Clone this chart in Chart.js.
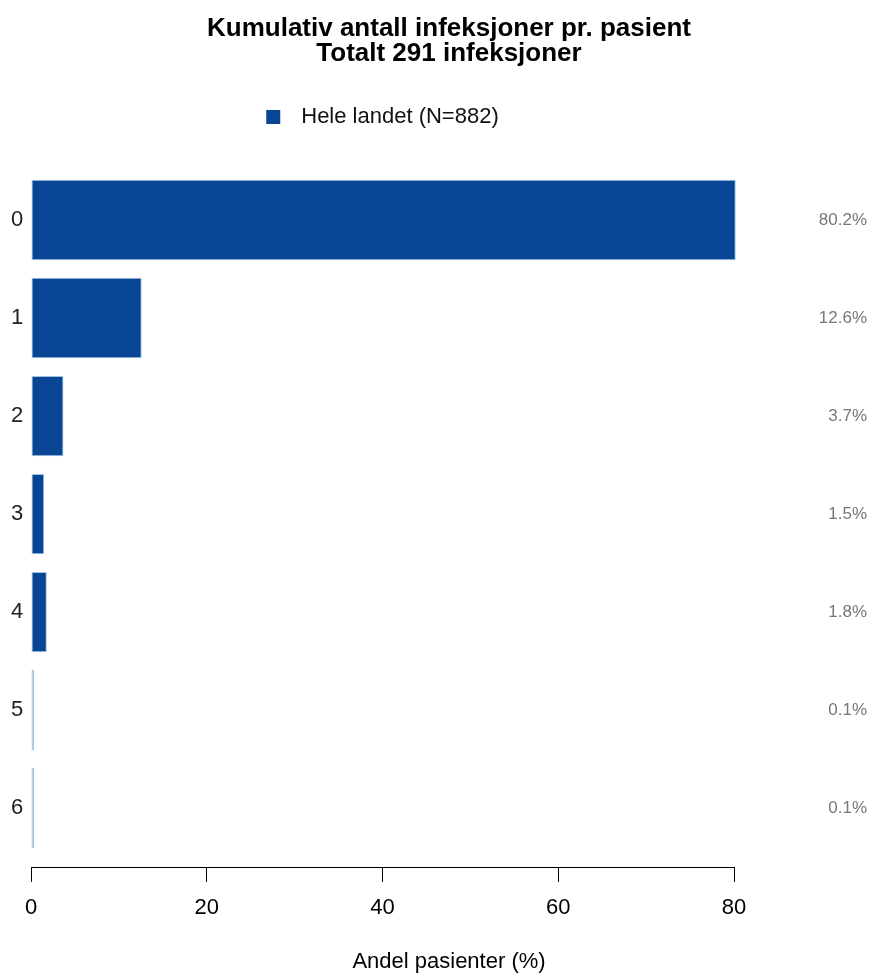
<!DOCTYPE html>
<html lang="no">
  <head>
    <meta charset="UTF-8" />
    <meta name="viewport" content="width=device-width, initial-scale=1.0" />
    <script src="https://cdn.jsdelivr.net/npm/chart.js@4/dist/chart.umd.min.js"></script>
    <title>Kumulativ antall infeksjoner</title>
    <style>
      html, body { margin: 0; padding: 0; background: #fff; }
      canvas { display: block; }
    </style>
  </head>
  <body>
    <canvas id="myChart" width="875" height="974"></canvas>

    <script>
      // data
      const categories = ["0", "1", "2", "3", "4", "5", "6"];
      const shares = [80.2, 12.6, 3.7, 1.5, 1.8, 0.1, 0.1];
      const shareLabels = ["80.2%", "12.6%", "3.7%", "1.5%", "1.8%", "0.1%", "0.1%"];
      const seriesName = "Hele landet (N=882)";
      const titleLines = ["Kumulativ antall infeksjoner pr. pasient", "Totalt 291 infeksjoner"];
      const xTitle = "Andel pasienter (%)";

      const FONT = "'Liberation Sans', Arial, Helvetica, sans-serif";
      const dark = "#084594";
      const light = "#a3c1e6";

      // one small legend above the plot, centred on the plot area
      const topLegend = {
        id: "topLegend",
        afterDraw(chart) {
          const ctx = chart.ctx;
          const area = chart.chartArea;
          ctx.save();
          ctx.font = "22px " + FONT;
          const tw = ctx.measureText(seriesName).width;
          const total = 14 + 21 + tw;
          const x0 = (area.left + area.right) / 2 - total / 2;
          const y = 117;
          ctx.fillStyle = dark;
          ctx.fillRect(x0, y - 7, 14, 14);
          ctx.fillStyle = "#111";
          ctx.textBaseline = "middle";
          ctx.textAlign = "left";
          ctx.fillText(seriesName, x0 + 35, y);
          ctx.restore();
        },
      };

      const yRange = { min: -0.5, max: 6.61 };

      const config = {
        type: "bar",
        data: {
          datasets: [
            {
              label: seriesName,
              data: shares.map((v, i) => ({ x: v, y: i })),
              backgroundColor: shares.map((v) => (v < 1 ? light : dark)),
              borderColor: light,
              borderWidth: 1,
              borderSkipped: false,
              minBarLength: 3,
              barPercentage: 0.82,
              categoryPercentage: 1,
              clip: false,
            },
          ],
        },
        options: {
          indexAxis: "y",
          responsive: false,
          animation: false,
          layout: { padding: { left: 31, right: 8, top: 0, bottom: 0 } },
          plugins: {
            legend: { display: false },
            tooltip: { enabled: false },
            title: {
              display: true,
              text: titleLines,
              color: "#000",
              font: { family: FONT, size: 26, weight: "bold", lineHeight: 0.97 },
              padding: { top: 16.4, bottom: 104.2 },
            },
            subtitle: {
              display: true,
              position: "bottom",
              text: xTitle,
              color: "#000",
              font: { family: FONT, size: 22, lineHeight: 1.1 },
              padding: { top: 15.5, bottom: 0 },
            },
          },
          scales: {
            x: {
              type: "linear",
              min: 0,
              max: 80,
              ticks: {
                stepSize: 20,
                color: "#000",
                padding: 13,
                font: { family: FONT, size: 22 },
              },
              grid: {
                display: true,
                drawOnChartArea: false,
                tickLength: 14,
                color: "#000",
              },
              border: { display: true, color: "#000", width: 1 },
            },
            y: {
              type: "linear",
              position: "left",
              reverse: true,
              offset: false,
              min: yRange.min,
              max: yRange.max,
              afterFit: (s) => { s.width = 0; },
              ticks: {
                stepSize: 1,
                includeBounds: false,
                // labels sit in the left margin, outside the (zero width) axis box
                mirror: true,
                padding: -20,
                color: "#222",
                font: { family: FONT, size: 22 },
                callback: (v) => (Number.isInteger(v) && categories[v] !== undefined ? categories[v] : ""),
              },
              grid: { display: false },
              border: { display: false },
            },
            y2: {
              type: "linear",
              position: "right",
              reverse: true,
              offset: false,
              min: yRange.min,
              max: yRange.max,
              afterFit: (s) => { s.width = 133; },
              ticks: {
                stepSize: 1,
                includeBounds: false,
                crossAlign: "far",
                color: "#777",
                font: { family: FONT, size: 17 },
                callback: (v) => (Number.isInteger(v) && shareLabels[v] !== undefined ? shareLabels[v] : ""),
              },
              grid: { display: false },
              border: { display: false },
            },
          },
        },
        plugins: [topLegend],
      };

      const myChart = new Chart(document.getElementById("myChart"), config);
    </script>
  </body>
</html>
